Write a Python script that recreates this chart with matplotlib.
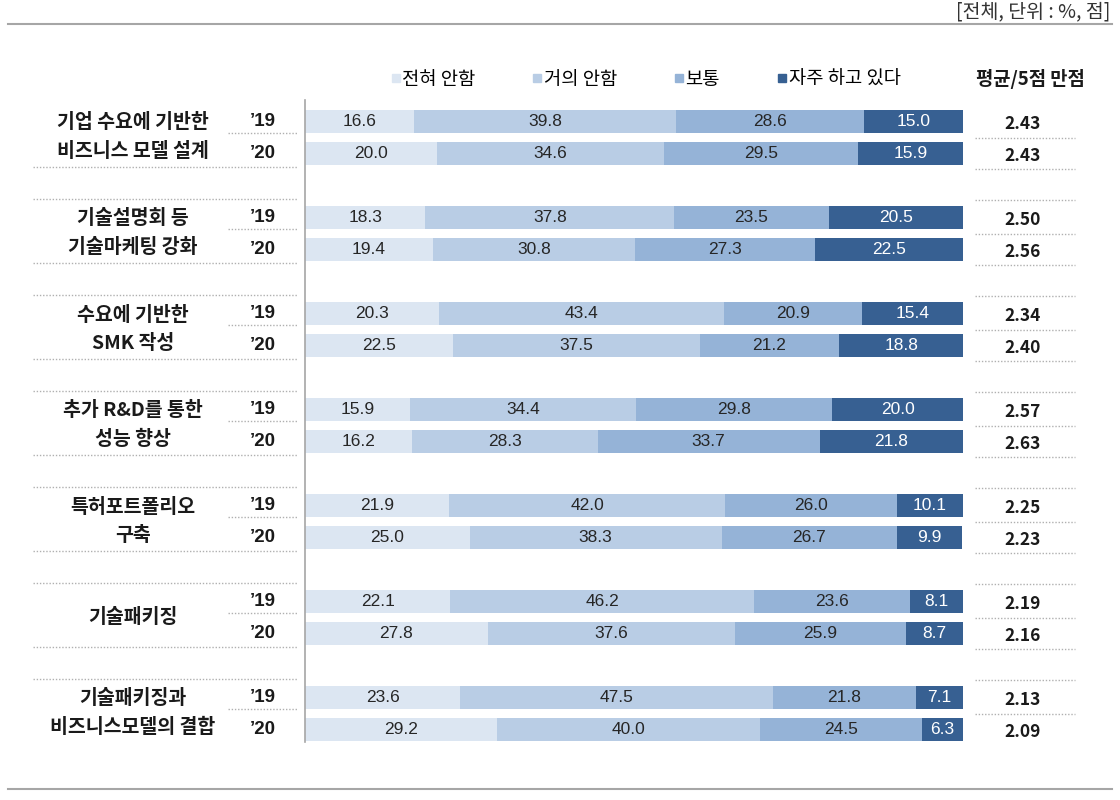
import matplotlib
matplotlib.use("Agg")
import matplotlib.pyplot as plt
from matplotlib.lines import Line2D
import numpy as np

plt.rcParams['font.family'] = ['Noto Sans CJK KR', 'DejaVu Sans']

categories = ["기업 수요에 기반한\n비즈니스 모델 설계",
              "기술설명회 등\n기술마케팅 강화",
              "수요에 기반한\nSMK 작성",
              "추가 R&D를 통한\n성능 향상",
              "특허포트폴리오\n구축",
              "기술패키징",
              "기술패키징과\n비즈니스모델의 결합"]
years = ["’19", "’20"]
series_names = ["전혀 안함", "거의 안함", "보통", "자주 하고 있다"]

never = [16.6, 20.0, 18.3, 19.4, 20.3, 22.5, 15.9, 16.2, 21.9, 25.0, 22.1, 27.8, 23.6, 29.2]
rarely = [39.8, 34.6, 37.8, 30.8, 43.4, 37.5, 34.4, 28.3, 42.0, 38.3, 46.2, 37.6, 47.5, 40.0]
normal = [28.6, 29.5, 23.5, 27.3, 20.9, 21.2, 29.8, 33.7, 26.0, 26.7, 23.6, 25.9, 21.8, 24.5]
often = [15.0, 15.9, 20.5, 22.5, 15.4, 18.8, 20.0, 21.8, 10.1, 9.9, 8.1, 8.7, 7.1, 6.3]
means = [2.43, 2.43, 2.50, 2.56, 2.34, 2.40, 2.57, 2.63, 2.25, 2.23, 2.19, 2.16, 2.13, 2.09]

colors = ["#dce6f2", "#b9cde5", "#95b3d7", "#376092"]
text_colors = ["#262626", "#262626", "#262626", "white"]

W, H = 1120, 800
fig = plt.figure(figsize=(11.2, 8), dpi=100)
ax = fig.add_axes([305 / W, 1 - 742 / H, 658 / W, 642 / H])
ax.set_xlim(0, 100)
ax.set_ylim(19.4, -0.66)
for s in ["top", "right", "bottom"]:
    ax.spines[s].set_visible(False)
ax.spines["left"].set_color("#a6a6a6")
ax.spines["left"].set_linewidth(1.2)
ax.set_xticks([])
ax.set_yticks([])

ypos = []
for g in range(len(categories)):
    ypos += [g * 3, g * 3 + 1]
ypos = np.array(ypos, dtype=float)

data = [never, rarely, normal, often]
left = np.zeros(len(ypos))
for k, vals in enumerate(data):
    vals = np.array(vals)
    ax.barh(ypos, vals, left=left, height=0.72, color=colors[k], edgecolor="none")
    for y, l, v in zip(ypos, left, vals):
        ax.text(l + v / 2, y, f"{v:.1f}", ha="center", va="center", fontsize=12.5,
                family="Liberation Sans", color=text_colors[k])
    left = left + vals

# coordinate helper: pixel x to data x
def px(x):
    return (x - 305) / 658 * 100

dot_kw = dict(color="#b0b0b0", lw=1.0, ls=(0, (1, 1.3)), clip_on=False)
for g, cat in enumerate(categories):
    y0 = g * 3
    ax.text(px(133), y0 + 0.5, cat, ha="center", va="center", fontsize=14,
            fontweight="bold", linespacing=1.62, color="#1a1a1a")
    for j, yr in enumerate(years):
        ax.text(px(263), y0 + j + 0.02, yr, ha="center", va="center", fontsize=13.5,
                fontweight="bold", family="Liberation Sans", color="#1a1a1a")
        ax.text(px(1023), y0 + j + 0.08, f"{means[g * 2 + j]:.2f}", ha="center", va="center",
                fontsize=12.5, fontweight="bold", color="#1a1a1a")
    # dotted separators
    ax.plot([px(228), px(298)], [y0 + 0.38, y0 + 0.38], **dot_kw)
    if g > 0:
        ax.plot([px(33), px(298)], [y0 - 0.58, y0 - 0.58], **dot_kw)
        ax.plot([px(975), px(1075)], [y0 - 0.53, y0 - 0.53], **dot_kw)
    ax.plot([px(975), px(1075)], [y0 + 0.52, y0 + 0.52], **dot_kw)
    if g < len(categories) - 1:
        ax.plot([px(33), px(298)], [y0 + 1.44, y0 + 1.44], **dot_kw)
        ax.plot([px(975), px(1075)], [y0 + 1.5, y0 + 1.5], **dot_kw)

# legend
handles = [Line2D([], [], marker="s", ls="none", markersize=6, color=c) for c in colors]
leg = fig.legend(handles, series_names, loc="center left", bbox_to_anchor=(391 / W, 1 - 79 / H),
                 ncol=4, frameon=False, fontsize=13.5, handlelength=0.5, handletextpad=0.1,
                 columnspacing=3.05, borderaxespad=0, borderpad=0)
fig.text(1030 / W, 1 - 79 / H, "평균/5점 만점", ha="center", va="center", fontsize=13.5,
         fontweight="bold", color="#1a1a1a")

# header / frame lines
fig.text(1110 / W, 1 - 12 / H, "[전체, 단위 : %, 점]", ha="right", va="center",
         fontsize=14, color="#333333")
fig.add_artist(Line2D([8 / W, 1112 / W], [1 - 24 / H, 1 - 24 / H], color="#a6a6a6", lw=1.5))
fig.add_artist(Line2D([8 / W, 1112 / W], [1 - 789 / H, 1 - 789 / H], color="#a6a6a6", lw=1.5))

fig.savefig("out.png", dpi=100, facecolor="white")
